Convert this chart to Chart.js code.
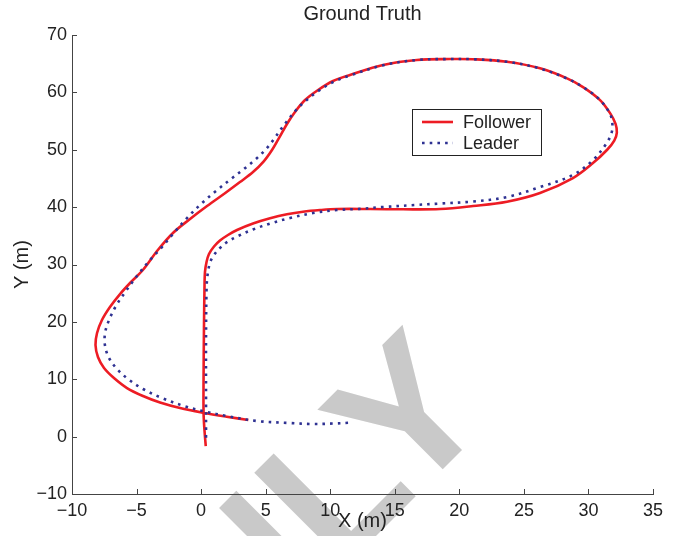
<!DOCTYPE html>
<html>
<head>
<meta charset="utf-8">
<script src="https://cdn.jsdelivr.net/npm/chart.js@4.4.1/dist/chart.umd.min.js"></script>
<style>
  html, body { margin: 0; padding: 0; background: #fff; }
  #wrap { width: 677px; height: 536px; }
</style>
</head>
<body>
<div id="wrap"><canvas id="traj" width="677" height="536"></canvas></div>
<script>
// Ground Truth trajectories (metres)
const followerX = [0.36, 0.26, 0.19, 0.19, 0.22, 0.26, 0.3, 0.42, 0.61, 1.0, 1.46, 2.08, 2.78, 4.02, 5.34, 6.65, 7.89, 9.21, 10.53, 13.09, 15.64, 18.51, 21.06, 23.69, 26.25, 28.8, 30.35, 31.45, 32.0, 32.2, 32.1, 31.7, 30.9, 29.58, 28.34, 26.25, 23.69, 21.06, 19.27, 16.71, 14.09, 11.53, 10.22, 9.06, 8.05, 7.27, 6.65, 6.03, 5.49, 4.87, 4.02, 3.01, 1.87, 0.46, -0.86, -2.18, -3.35, -4.51, -5.43, -6.28, -7.06, -7.68, -8.06, -8.18, -7.99, -7.52, -6.75, -5.74, -4.5, -3.18, -1.63, 0.15, 1.98, 3.66];
const followerY = [-1.64, 1.15, 4.1, 9.9, 18.6, 25.6, 28.7, 30.43, 31.83, 33.13, 34.18, 35.14, 36.01, 37.14, 38.05, 38.75, 39.2, 39.49, 39.67, 39.67, 39.62, 39.67, 40.19, 40.94, 42.46, 45.07, 47.68, 50.0, 51.6, 53.0, 54.5, 56.3, 58.66, 60.93, 62.45, 64.19, 65.34, 65.78, 65.81, 65.64, 64.77, 63.03, 61.98, 60.41, 58.66, 56.57, 54.48, 52.04, 49.95, 48.03, 46.12, 44.37, 42.46, 40.19, 37.93, 35.49, 32.52, 29.04, 26.95, 24.85, 22.59, 20.32, 18.06, 15.97, 13.87, 11.96, 10.21, 8.47, 7.08, 5.94, 4.98, 4.17, 3.47, 2.89];

const leaderX = [0.38, 0.38, 0.38, 0.42, 0.5, 0.69, 1.0, 1.46, 2.0, 2.86, 4.02, 5.34, 6.89, 8.67, 10.53, 12.31, 14.09, 16.57, 18.51, 21.06, 23.69, 26.25, 28.8, 30.35, 31.36, 31.79, 31.85, 31.67, 30.9, 29.58, 28.34, 26.25, 23.69, 21.06, 19.27, 16.71, 14.09, 11.53, 10.22, 9.06, 8.13, 7.35, 6.73, 6.19, 5.65, 5.03, 4.25, 3.32, 2.31, 1.15, 0.07, -1.09, -2.25, -3.1, -3.96, -4.97, -5.82, -6.6, -7.13, -7.44, -7.44, -7.13, -6.51, -5.66, -4.5, -3.03, -1.32, 0.3, 2.0, 4.33, 6.89, 8.59, 10.22, 11.46];
const leaderY = [-0.2, 6.4, 16.8, 25.6, 28.2, 30.3, 31.65, 32.87, 33.9, 34.96, 36.1, 37.14, 38.1, 38.97, 39.5, 39.7, 40.02, 40.37, 40.63, 40.98, 41.76, 43.5, 45.6, 48.2, 50.99, 52.92, 54.66, 56.23, 58.66, 60.93, 62.41, 64.16, 65.34, 65.78, 65.81, 65.64, 64.72, 62.94, 61.8, 60.23, 58.58, 56.92, 55.18, 53.61, 51.87, 50.13, 48.39, 46.64, 44.9, 42.81, 40.72, 38.1, 35.14, 32.87, 30.78, 27.99, 25.38, 22.76, 20.32, 18.06, 15.79, 13.7, 11.78, 10.04, 8.3, 6.73, 5.33, 4.37, 3.59, 2.72, 2.37, 2.2, 2.28, 2.42];

const seriesNames = ['Follower', 'Leader'];
const xTicks = [-10, 35, 5];   // min, max, step
const yTicks = [-10, 70, 10];

const FONT = "'Liberation Sans', Arial, Helvetica, sans-serif";
const AXIS_COLOR = '#444';

function toPoints(xs, ys) {
    return xs.map((x, i) => ({ x: x, y: ys[i] }));
}
function fmtTick(v) {
    return String(v).replace('-', '\u2212');
}

// faint watermark behind the plot
const watermark = {
    id: 'watermark',
    beforeDraw(chart) {
        const c = chart.ctx;
        c.save();
        c.translate(497, 415);
        c.rotate(-Math.PI / 4);
        c.font = 'bold 190px ' + FONT;
        c.fillStyle = '#c9c9c9';
        c.textAlign = 'right';
        c.textBaseline = 'alphabetic';
        c.fillText('ONLY', 0, 0);
        c.restore();
    }
};

// matlab style ticks pointing into the axes
const innerTicks = {
    id: 'innerTicks',
    afterDraw(chart) {
        const c = chart.ctx;
        const xs = chart.scales.x, ys = chart.scales.y;
        const a = chart.chartArea;
        c.save();
        c.strokeStyle = AXIS_COLOR;
        c.lineWidth = 1;
        c.beginPath();
        xs.ticks.forEach(t => {
            const px = Math.round(xs.getPixelForValue(t.value)) + 0.5;
            c.moveTo(px, a.bottom);
            c.lineTo(px, a.bottom - 5);
        });
        ys.ticks.forEach(t => {
            const py = Math.round(ys.getPixelForValue(t.value)) + 0.5;
            c.moveTo(a.left, py);
            c.lineTo(a.left + 5, py);
        });
        c.stroke();
        c.restore();
    }
};

// boxed legend inside the axes
const boxLegend = {
    id: 'boxLegend',
    afterDatasetsDraw(chart) {
        const c = chart.ctx;
        const a = chart.chartArea;
        const left = a.left + 340, top = a.top + 74, w = 129, h = 46;
        c.save();
        c.fillStyle = '#fff';
        c.fillRect(left, top, w, h);
        c.strokeStyle = '#222';
        c.lineWidth = 1;
        c.strokeRect(left + 0.5, top + 0.5, w, h);
        c.font = '18px ' + FONT;
        c.textBaseline = 'middle';
        c.fillStyle = '#222';
        [0, 1].forEach(i => {
            const ds = chart.data.datasets[i];
            const yy = top + 13 + i * 21;
            c.beginPath();
            c.strokeStyle = ds.borderColor;
            c.lineWidth = ds.borderWidth;
            c.setLineDash(ds.borderDash || []);
            c.moveTo(left + 10, yy);
            c.lineTo(left + 41, yy);
            c.stroke();
            c.setLineDash([]);
            c.fillText(ds.label, left + 51, yy + 1);
        });
        c.restore();
    }
};

const ctx = document.getElementById('traj').getContext('2d');
const chart = new Chart(ctx, {
    type: 'scatter',
    data: {
        datasets: [{
            label: seriesNames[0],
            data: toPoints(followerX, followerY),
            showLine: true,
            borderColor: '#ed1c24',
            borderWidth: 2.6,
            pointRadius: 0,
            tension: 0.35,
            order: 1
        }, {
            label: seriesNames[1],
            data: toPoints(leaderX, leaderY),
            showLine: true,
            borderColor: '#2e3192',
            borderWidth: 2.6,
            borderDash: [2.6, 5.1],
            borderCapStyle: 'butt',
            pointRadius: 0,
            tension: 0.35,
            order: 0
        }]
    },
    options: {
        responsive: false,
        animation: false,
        devicePixelRatio: 1,
        layout: { padding: { top: 0, right: 24, bottom: 0, left: 0 } },
        plugins: {
            legend: { display: false },
            tooltip: { enabled: false },
            title: {
                display: true,
                text: 'Ground Truth',
                fullSize: false,
                color: '#222',
                font: { family: FONT, size: 20, weight: 'normal' },
                padding: { top: 2, bottom: 9 }
            }
        },
        scales: {
            x: {
                type: 'linear',
                min: xTicks[0],
                max: xTicks[1],
                afterFit: s => { s.height = 42; },
                grid: { display: true, drawOnChartArea: false, drawTicks: false },
                border: { display: true, color: AXIS_COLOR, width: 1 },
                ticks: {
                    stepSize: xTicks[2],
                    padding: 6,
                    color: '#222',
                    font: { family: FONT, size: 18 },
                    maxRotation: 0,
                    callback: fmtTick
                },
                title: {
                    display: true,
                    text: 'X (m)',
                    color: '#222',
                    font: { family: FONT, size: 20 },
                    padding: { top: 0, bottom: 3 }
                }
            },
            y: {
                type: 'linear',
                min: yTicks[0],
                max: yTicks[1],
                afterFit: s => { s.width = 72; },
                grid: { display: true, drawOnChartArea: false, drawTicks: false },
                border: { display: true, color: AXIS_COLOR, width: 1 },
                ticks: {
                    stepSize: yTicks[2],
                    padding: 5,
                    color: '#222',
                    font: { family: FONT, size: 18 },
                    callback: fmtTick
                },
                title: {
                    display: true,
                    text: 'Y (m)',
                    color: '#222',
                    font: { family: FONT, size: 20 },
                    padding: { top: 10, bottom: 0 }
                }
            }
        }
    },
    plugins: [watermark, innerTicks, boxLegend]
});
</script>
</body>
</html>
